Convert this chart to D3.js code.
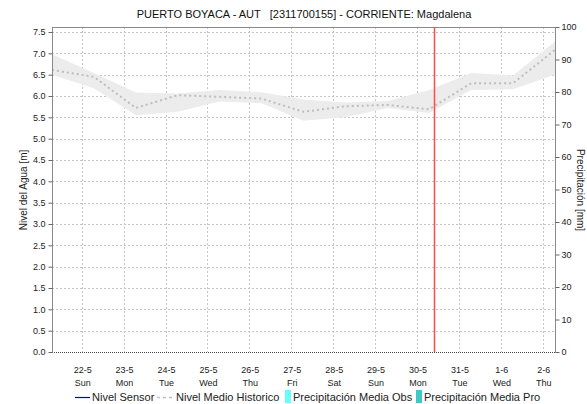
<!DOCTYPE html>
<html><head><meta charset="utf-8">
<script src="https://cdn.jsdelivr.net/npm/d3@7"></script>
<style>
body{margin:0;background:#fff;}
svg{display:block;font-family:"Liberation Sans",Arial,sans-serif;}
</style></head>
<body><svg id="c" width="587" height="404"></svg>
<script>
// ---- data ----
const title = "PUERTO BOYACA - AUT   [2311700155] - CORRIENTE: Magdalena";
const dayLabels = ["22-5","23-5","24-5","25-5","26-5","27-5","28-5","29-5","30-5","31-5","1-6","2-6"];
const weekLabels = ["Sun","Mon","Tue","Wed","Thu","Fri","Sat","Sun","Mon","Tue","Wed","Thu"];
// historic series sampled daily at 07:00, from 21-5 to 2-6
const histDates = ["2022-05-21","2022-05-22","2022-05-23","2022-05-24","2022-05-25","2022-05-26","2022-05-27",
  "2022-05-28","2022-05-29","2022-05-30","2022-05-31","2022-06-01","2022-06-02"];
const histMedian = [6.61,6.45,5.72,6.02,5.98,5.94,5.63,5.76,5.79,5.69,6.30,6.30,7.08];
const histUpper  = [6.98,6.54,6.08,6.06,6.14,6.09,5.92,5.85,5.88,6.14,6.54,6.48,7.28];
const histLower  = [6.50,6.18,5.55,5.63,5.87,5.83,5.42,5.50,5.72,5.60,6.14,6.16,6.50];
const leftTicks = [0,0.5,1,1.5,2,2.5,3,3.5,4,4.5,5,5.5,6,6.5,7,7.5];
const rightTicks = [0,10,20,30,40,50,60,70,80,90,100];
const nowTime = "2022-05-30T09:45";
const legendItems = ["Nivel Sensor","Nivel Medio Historico","Precipitación Media Obs","Precipitación Media Pro"];

// ---- layout ----
const svg = d3.select("#c");
const L = 52, R = 555, T = 27, B = 352;
const parse = s => new Date(s + "T07:00");
const x = d3.scaleTime().domain([new Date("2022-05-21T07:00"), new Date("2022-06-02T07:00")]).range([L, R]);
const y = d3.scaleLinear().domain([0, 7.5]).range([B, 32]);
const y2 = d3.scaleLinear().domain([0, 100]).range([B, T]);
const tickDates = dayLabels.map((d,i) => { const [dd,mm] = d.split("-"); return new Date(2022, +mm-1, +dd); });

const gridCol = "#c4c4c4";
// horizontal grid
svg.append("g").selectAll("line").data(leftTicks.filter(v=>v>0)).join("line")
  .attr("x1", L).attr("x2", R).attr("y1", d=>Math.round(y(d))+0.5).attr("y2", d=>Math.round(y(d))+0.5)
  .attr("stroke", gridCol).attr("stroke-dasharray","2,2");
// vertical grid
svg.append("g").selectAll("line").data(tickDates).join("line")
  .attr("x1", d=>Math.round(x(d))+0.5).attr("x2", d=>Math.round(x(d))+0.5).attr("y1", T).attr("y2", B)
  .attr("stroke", gridCol).attr("stroke-dasharray","2,2");

// band
const pts = histDates.map((d,i)=>({t:parse(d), m:histMedian[i], u:histUpper[i], l:histLower[i]}));
svg.append("path").datum(pts)
  .attr("d", d3.area().x(d=>x(d.t)).y0(d=>y(d.l)).y1(d=>y(d.u)))
  .attr("fill","#ececec");
svg.append("path").datum(pts)
  .attr("d", d3.line().x(d=>x(d.t)).y(d=>y(d.m)))
  .attr("fill","none").attr("stroke","#bdbdbd").attr("stroke-width",2).attr("stroke-dasharray","2,3");

// frame top
svg.append("line").attr("x1",L).attr("x2",R).attr("y1",T+0.5).attr("y2",T+0.5).attr("stroke","#8a8a8a");
// bottom dotted axis
svg.append("line").attr("x1",L).attr("x2",R).attr("y1",B+0.5).attr("y2",B+0.5).attr("stroke","#444").attr("stroke-dasharray","1,1");

// now line
svg.append("line").attr("x1", Math.round(x(new Date(nowTime)))+0.5).attr("x2", Math.round(x(new Date(nowTime)))+0.5)
  .attr("y1", T).attr("y2", B).attr("stroke","#ff4a4a").attr("stroke-width",1.5);

// left axis
const ga = svg.append("g").attr("transform",`translate(${L+0.5},0)`)
  .call(d3.axisLeft(y).tickValues(leftTicks).tickFormat(d3.format(".1f")).tickSize(4).tickPadding(3));
ga.select(".domain").attr("stroke","#8a8a8a").attr("d",`M0,${T}V${B+0.5}`);
ga.selectAll(".tick line").attr("stroke","#666");
ga.selectAll("text").attr("font-size",9).attr("fill","#222").attr("font-family","Liberation Sans, Arial, sans-serif");
// right axis
const gr = svg.append("g").attr("transform",`translate(${R+0.5},0)`)
  .call(d3.axisRight(y2).tickValues(rightTicks).tickFormat(d3.format("d")).tickSize(4).tickPadding(2));
gr.select(".domain").attr("stroke","#8a8a8a").attr("d",`M0,${T}V${B+0.5}`);
gr.selectAll(".tick line").attr("stroke","#666");
gr.selectAll("text").attr("font-size",9).attr("fill","#222").attr("font-family","Liberation Sans, Arial, sans-serif");

// x labels
const gx = svg.append("g");
gx.selectAll("text.d").data(tickDates).join("text").attr("class","d")
  .attr("x", d=>x(d)+1).attr("y", 373).attr("text-anchor","middle").attr("font-size",9).attr("fill","#222")
  .text((d,i)=>dayLabels[i]);
gx.selectAll("text.w").data(tickDates).join("text").attr("class","w")
  .attr("x", d=>x(d)+1).attr("y", 386).attr("text-anchor","middle").attr("font-size",9).attr("fill","#222")
  .text((d,i)=>weekLabels[i]);

// title
svg.append("text").attr("x",304).attr("y",18).attr("text-anchor","middle").attr("font-size",11).attr("fill","#111")
  .attr("xml:space","preserve").style("white-space","pre").text(title);

// axis titles
svg.append("text").attr("transform","translate(27,190) rotate(-90)").attr("text-anchor","middle")
  .attr("font-size",10).attr("fill","#222").text("Nivel del Agua [m]");
svg.append("text").attr("transform","translate(577,190) rotate(90)").attr("text-anchor","middle")
  .attr("font-size",10).attr("fill","#222").text("Precipitación [mm]");

// legend
const lg = svg.append("g").attr("font-size",11).attr("fill","#222");
lg.append("line").attr("x1",75).attr("x2",90).attr("y1",397.5).attr("y2",397.5).attr("stroke","#0000cc").attr("stroke-width",1.2);
lg.append("text").attr("x",92).attr("y",401).text(legendItems[0]);
lg.append("line").attr("x1",157).attr("x2",172).attr("y1",397.5).attr("y2",397.5).attr("stroke","#c0c0c0").attr("stroke-width",1.5).attr("stroke-dasharray","3,3");
lg.append("text").attr("x",176).attr("y",401).text(legendItems[1]);
lg.append("rect").attr("x",285).attr("y",390).attr("width",6).attr("height",13).attr("fill","#66ffff");
lg.append("text").attr("x",293).attr("y",401).text(legendItems[2]);
lg.append("rect").attr("x",416).attr("y",390).attr("width",6).attr("height",13).attr("fill","#40c8c8");
lg.append("text").attr("x",424).attr("y",401).text(legendItems[3]);
</script></body></html>
